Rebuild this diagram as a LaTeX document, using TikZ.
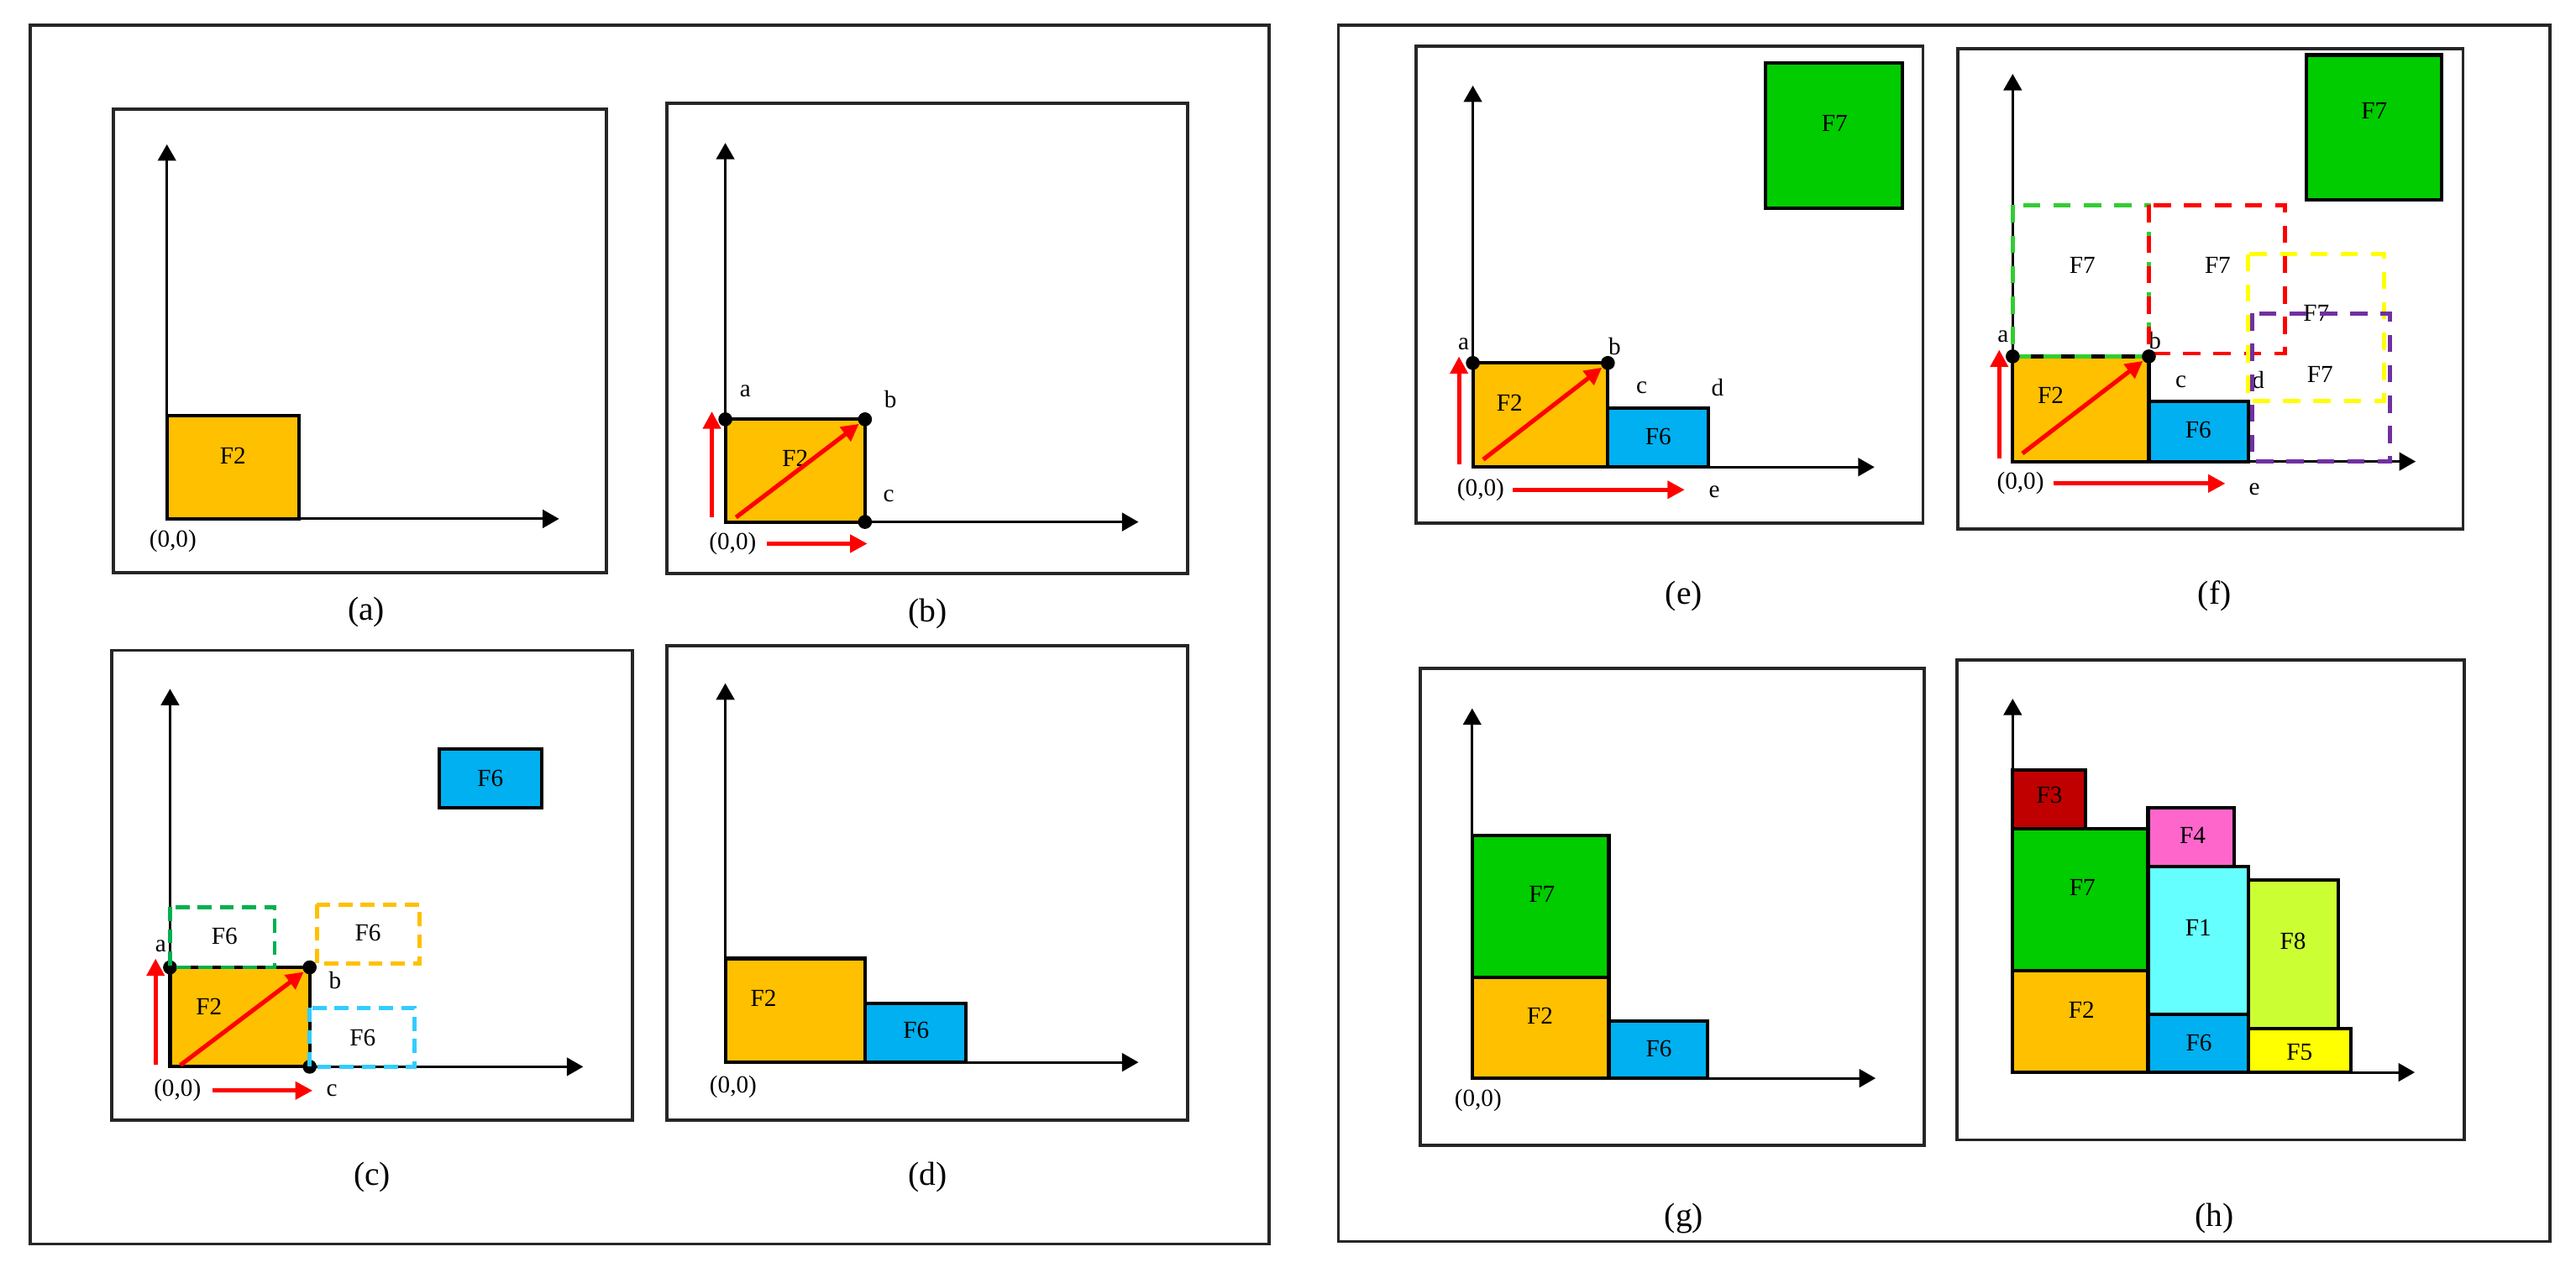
\documentclass[tikz,border=0pt]{standalone}
\usepackage{fontspec}
\setmainfont{Liberation Serif}
\usetikzlibrary{arrows.meta}
\definecolor{cF1}{HTML}{66FFFF}
\definecolor{cF2}{HTML}{FFC000}
\definecolor{cF3}{HTML}{C00000}
\definecolor{cF4}{HTML}{FF66CC}
\definecolor{cF5}{HTML}{FFFF00}
\definecolor{cF6}{HTML}{00B0F0}
\definecolor{cF7}{HTML}{00CC00}
\definecolor{cF8}{HTML}{CCFF33}
\definecolor{cGrn}{HTML}{00B050}
\definecolor{cGrnF}{HTML}{33CC33}
\definecolor{cBlu}{HTML}{33CCFF}
\definecolor{cPur}{HTML}{7030A0}
\tikzset{
  oframe/.style={draw=black!85, line width=1pt},
  pframe/.style={draw=black!85, line width=1.1pt},
  axis/.style={-{Triangle[length=2mm,width=2.2mm]}, line width=0.9pt},
  blk/.style={draw=black, line width=1.2pt},
  ghost/.style={line width=1.4pt, dash pattern=on 1.7mm off 1mm},
  ghostf/.style={line width=1.4pt, dash pattern=on 2.1mm off 1.6mm},
  rarr/.style={-{Triangle[length=2.1mm,width=2.1mm]}, line width=1.5pt, draw=red},
  corner/.style={circle, fill=black, inner sep=0pt, minimum size=1.7mm},
  flbl/.style={font=\fontsize{8.5}{9}\selectfont, inner sep=0pt},
  plbl/.style={font=\fontsize{8.5}{9}\selectfont, inner sep=0pt},
  caplbl/.style={font=\fontsize{11.5}{13}\selectfont, inner sep=0pt},
}

\begin{document}
\begin{tikzpicture}[x=0.2mm, y=-0.2mm]
\useasboundingbox (0,0) rectangle (1568,778);
% ---- the two outer frames
\draw[oframe] (18.4,15.3) rectangle (772.4,757.5);
\draw[oframe] (814.6,15.3) rectangle (1552.1,755.8);

% ---- panel (a)
\begin{scope}[shift={(101.6,315.9)}]
\draw[pframe] (-32.6,-249.4) rectangle (267.4,32.6);
\draw[axis] (0,0) -- (0,-228);
\draw[axis] (0,0) -- (238.7,0);
\draw[blk, fill=cF2] (0,0) rectangle (80.4,-63);
\node[flbl] (a-F2) at (40.2,-38.5) {F2};
\node[plbl] (a-o) at (3.6,13.4) {(0,0)};
\end{scope}

% ---- panel (b)
\begin{scope}[shift={(441.5,317.8)}]
\draw[pframe] (-35.5,-254.8) rectangle (281.5,31.2);
\draw[axis] (0,0) -- (0,-230.8);
\draw[axis] (0,0) -- (251.5,0);
\draw[blk, fill=cF2] (0,0) rectangle (85,-62.5);
\node[flbl] (b-F2) at (42.5,-38.8) {F2};
\foreach \n/\x/\y in {a/0/-62.5, b/85/-62.5, c/85/0}
  \node[corner] (b-\n) at (\x,\y) {};
\node[plbl] (b-la) at (12.2,-79.8) {a};
\node[plbl] (b-lb) at (100.5,-74.8) {b};
\node[plbl] (b-lc) at (99.5,-15.8) {c};
\node[plbl] (b-o) at (4.5,13.2) {(0,0)};
\coordinate (b-d0) at (6.5,-2.8);
\coordinate (b-u0) at (-8.2,-2.8);
\coordinate (b-u1) at (-8.2,-67.3);
\coordinate (b-r0) at (25.5,13.2);
\coordinate (b-r1) at (86.5,13.2);
\draw[rarr] (b-d0) -- (b-b);
\draw[rarr] (b-u0) -- (b-u1);
\draw[rarr] (b-r0) -- (b-r1);
\end{scope}

% ---- panel (c)
\begin{scope}[shift={(103.5,649.5)}]
\draw[pframe] (-35.5,-253.5) rectangle (281.5,32.5);
\draw[axis] (0,0) -- (0,-230.1);
\draw[axis] (0,0) -- (251.5,0);
\draw[blk, fill=cF2] (0,0) rectangle (85,-60.5);
\draw[blk, fill=cF6] (164.1,-193.5) rectangle (226.1,-157.9);
\foreach \n/\x/\y in {a/0/-60.5, b/85/-60.5, c/85/0}
  \node[corner] (c-\n) at (\x,\y) {};
\draw[ghost, draw=cGrn] (0,-97.2) rectangle (63.7,-60.5);
\draw[ghost, draw=cF2] (89.3,-98.7) rectangle (151.9,-62.7);
\draw[ghost, draw=cBlu] (85,-35.9) rectangle (148.7,0);
\node[flbl] (c-F6g) at (33.2,-79.5) {F6};
\node[flbl] (c-F6o) at (120.5,-81.5) {F6};
\node[flbl] (c-F6b) at (117.2,-17.7) {F6};
\node[flbl] (c-F6) at (195,-175.7) {F6};
\node[flbl] (c-F2) at (23.7,-36.5) {F2};
\node[plbl] (c-la) at (-5.7,-73.5) {a};
\node[plbl] (c-lb) at (100.5,-52.5) {b};
\node[plbl] (c-lc) at (98.5,14.5) {c};
\node[plbl] (c-o) at (4.5,14.5) {(0,0)};
\coordinate (c-d0) at (6.3,-1);
\coordinate (c-u0) at (-8.8,-1);
\coordinate (c-u1) at (-8.8,-65.9);
\coordinate (c-r0) at (25.8,14.5);
\coordinate (c-r1) at (86.8,14.5);
\draw[rarr] (c-d0) -- (c-b);
\draw[rarr] (c-u0) -- (c-u1);
\draw[rarr] (c-r0) -- (c-r1);
\end{scope}

% ---- panel (d)
\begin{scope}[shift={(441.5,646.8)}]
\draw[pframe] (-35.5,-253.8) rectangle (281.5,35.2);
\draw[axis] (0,0) -- (0,-230.8);
\draw[axis] (0,0) -- (251.5,0);
\draw[blk, fill=cF2] (0,0) rectangle (85.1,-63.2);
\draw[blk, fill=cF6] (85.1,0) rectangle (146.6,-36);
\node[flbl] (d-F2) at (23.3,-39.1) {F2};
\node[flbl] (d-F6) at (116.2,-19.3) {F6};
\node[plbl] (d-o) at (4.8,15.2) {(0,0)};
\end{scope}

% ---- panel (e)
\begin{scope}[shift={(896.5,284.4)}]
\draw[pframe] (-34.5,-256.4) rectangle (274,34.3);
\draw[axis] (0,0) -- (0,-232.3);
\draw[axis] (0,0) -- (244.5,0);
\draw[blk, fill=cF2] (0,0) rectangle (82.2,-63.4);
\draw[blk, fill=cF6] (82.2,0) rectangle (143.2,-36.1);
\draw[blk, fill=cF7] (178.3,-246.1) rectangle (261.3,-157.5);
\foreach \n/\x/\y in {a/0/-63.4, b/82.2/-63.4}
  \node[corner] (e-\n) at (\x,\y) {};
\node[flbl] (e-F2) at (22.4,-39.1) {F2};
\node[flbl] (e-F6) at (112.9,-18.4) {F6};
\node[flbl] (e-F7) at (220.2,-209.3) {F7};
\foreach \t/\x/\y in {a/-5.6/-74.8, b/86.3/-73.6, c/102.8/-48.4, d/149/-48.4, e/147/14.9}
  \node[plbl] (e-l\t) at (\x,\y) {\t};
\node[plbl] (e-o) at (4.8,13.8) {(0,0)};
\coordinate (e-d0) at (6.3,-4.6);
\coordinate (e-u0) at (-8.4,-1.7);
\coordinate (e-u1) at (-8.4,-67.4);
\coordinate (e-r0) at (24.5,13.8);
\coordinate (e-r1) at (129,13.8);
\draw[rarr] (e-d0) -- (e-b);
\draw[rarr] (e-u0) -- (e-u1);
\draw[rarr] (e-r0) -- (e-r1);
\end{scope}

% ---- panel (f)
\begin{scope}[shift={(1225.1,281)}]
\draw[pframe] (-33.5,-251.2) rectangle (274.1,41.1);
\draw[axis] (0,0) -- (0,-236);
\draw[axis] (0,0) -- (245.3,0);
\draw[blk, fill=cF2] (0,0) rectangle (82.9,-64);
\draw[blk, fill=cF6] (82.9,0) rectangle (143.6,-36.8);
\draw[blk, fill=cF7] (178.8,-247.5) rectangle (261.2,-159.5);
\node[flbl] (f-F2) at (23.1,-40.2) {F2};
\node[flbl] (f-F6) at (113,-19.3) {F6};
\node[flbl] (f-F7) at (220.1,-213.4) {F7};
\foreach \t/\x/\y in {a/-5.9/-76.3, b/86.6/-73.9, c/102.4/-48.4, d/149.5/-49.6, e/147.1/16.7}
  \node[plbl] (f-l\t) at (\x,\y) {\t};
\node[plbl] (f-o) at (4.7,13.4) {(0,0)};
% candidate places for F7
\node[flbl] (f-F7g) at (42.4,-119.3) {F7};
\node[flbl] (f-F7r) at (124.8,-119.3) {F7};
\node[flbl] (f-F7y) at (184.8,-90.2) {F7};
\node[flbl] (f-F7p) at (187.1,-53.1) {F7};
\draw[ghostf, draw=cGrnF] (0,-156) rectangle (82.9,-64);
\draw[ghostf, draw=red] (82.9,-156) rectangle (165.9,-65.8);
\draw[ghostf, draw=cF5] (143.1,-126.3) rectangle (225.9,-36.8);
\draw[ghostf, draw=cPur] (145.9,-90.2) rectangle (229.5,0);
\foreach \n/\x/\y in {a/0/-64, b/82.9/-64}
  \node[corner] (f-\n) at (\x,\y) {};
\coordinate (f-d0) at (5.9,-4.9);
\coordinate (f-u0) at (-8.2,-1.9);
\coordinate (f-u1) at (-8.2,-68.1);
\coordinate (f-r0) at (24.7,13.4);
\coordinate (f-r1) at (129.5,13.4);
\draw[rarr] (f-d0) -- (f-b);
\draw[rarr] (f-u0) -- (f-u1);
\draw[rarr] (f-r0) -- (f-r1);
\end{scope}

% ---- panel (g)
\begin{scope}[shift={(896.1,656.5)}]
\draw[pframe] (-31.6,-249.5) rectangle (275,40.9);
\draw[axis] (0,0) -- (0,-225.2);
\draw[axis] (0,0) -- (245.6,0);
\draw[blk, fill=cF2] (0,0) rectangle (83.2,-61.3);
\draw[blk, fill=cF7] (0,-61.3) rectangle (83.2,-147.7);
\draw[blk, fill=cF6] (83.2,0) rectangle (143.3,-34.9);
\node[flbl] (g-F7) at (42.4,-111.8) {F7};
\node[flbl] (g-F2) at (41.3,-38.1) {F2};
\node[flbl] (g-F6) at (113.6,-18) {F6};
\node[plbl] (g-o) at (3.6,13.3) {(0,0)};
\end{scope}

% ---- panel (h)
\begin{scope}[shift={(1225.1,652.9)}]
\draw[pframe] (-34.1,-250.9) rectangle (274.9,41.1);
\draw[axis] (0,0) -- (0,-227.5);
\draw[axis] (0,0) -- (244.8,0);
\foreach \c/\xa/\ya/\xb/\yb in {F2/0/0/82.4/-61.7, F7/0/-61.7/82.4/-148.1,
    F3/0/-148.1/44.3/-183.9, F6/82.4/0/143.6/-35.5, F1/82.4/-35.5/143.6/-125.5,
    F4/82.4/-125.5/134.6/-161.2, F5/143.6/0/205.9/-26.6, F8/143.6/-26.6/198.2/-116.9}
  \draw[blk, fill=c\c] (\xa,\ya) rectangle (\xb,\yb);
\foreach \c/\x/\y in {F3/22.4/-168.7, F7/42.4/-112.5, F2/41.9/-37.9, F4/109.5/-144.1,
    F1/113/-87.9, F6/113.4/-18, F8/170.6/-79.7, F5/174.6/-12.1}
  \node[flbl] (h-\c) at (\x,\y) {\c};
\end{scope}

% ---- captions
\foreach \t/\x/\y in {a/222.9/372.9, b/564.5/373.5, c/226.5/717, d/564.5/717,
    e/1025/363, f/1348/363, g/1025/742, h/1348/742}
  \node[caplbl] (cap-\t) at (\x,\y) {(\t)};
\end{tikzpicture}
\end{document}
